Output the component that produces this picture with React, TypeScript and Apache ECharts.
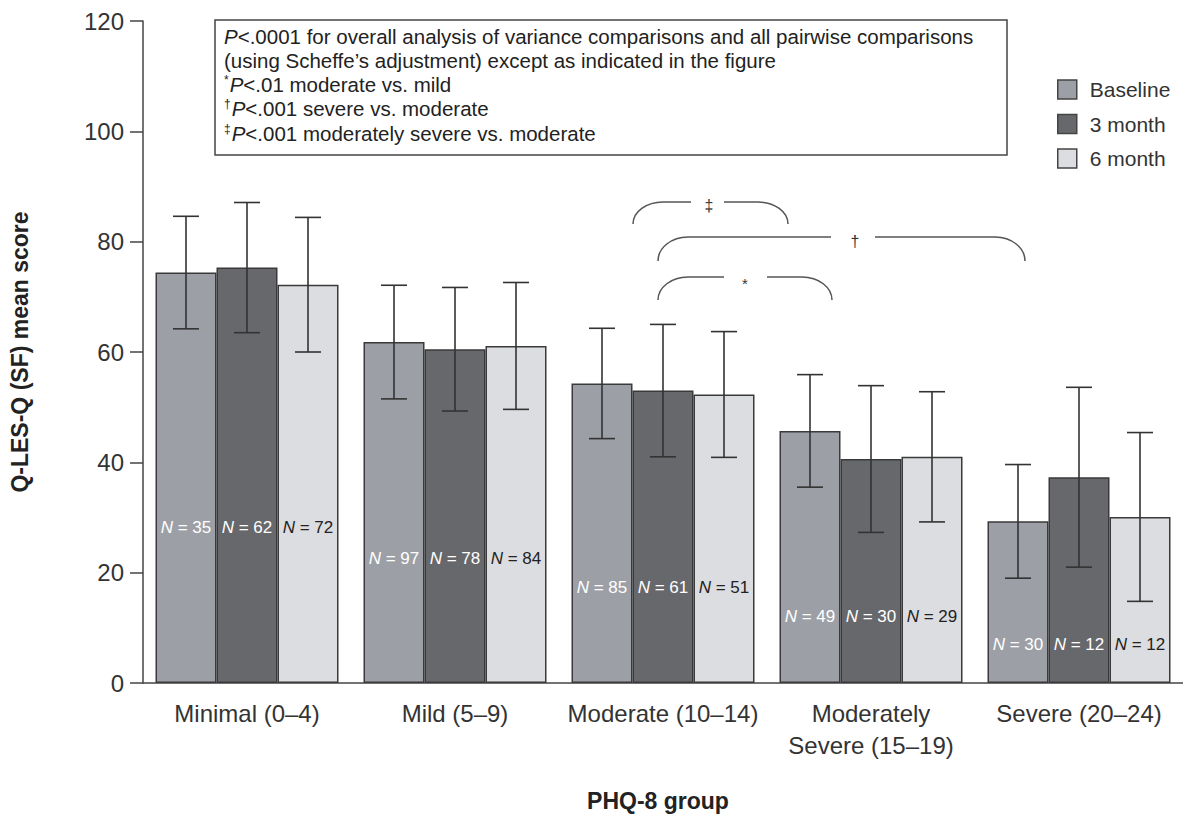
import React, { useEffect, useRef } from "react";
import * as echarts from "echarts";

// ---------- data ----------
const categories = [
  "Minimal (0–4)",
  "Mild (5–9)",
  "Moderate (10–14)",
  "Moderately\nSevere (15–19)",
  "Severe (20–24)",
];
const seriesNames = ["Baseline", "3 month", "6 month"];

const baselineMean = [74.4, 61.8, 54.3, 45.7, 29.3];
const baselineSD = [10.2, 10.3, 10.0, 10.2, 10.3];
const month3Mean = [75.3, 60.5, 53.0, 40.6, 37.3];
const month3SD = [11.8, 11.2, 12.0, 13.3, 16.3];
const month6Mean = [72.2, 61.1, 52.3, 41.0, 30.1];
const month6SD = [12.2, 11.5, 11.4, 11.8, 15.3];

const baselineN = [35, 97, 85, 49, 30];
const month3N = [62, 78, 61, 30, 12];
const month6N = [72, 84, 51, 29, 12];

const yTicks = [0, 20, 40, 60, 80, 100, 120];

const noteLines = [
  "{i|P}<.0001 for overall analysis of variance comparisons and all pairwise comparisons",
  "(using Scheffe’s adjustment) except as indicated in the figure",
  "{s|*}{i|P}<.01 moderate vs. mild",
  "{s|†}{i|P}<.001 severe vs. moderate",
  "{s|‡}{i|P}<.001 moderately severe vs. moderate",
];

// ---------- style constants ----------
const FONT = '"Liberation Sans", Arial, Helvetica, sans-serif';
const COLORS = ["#9d9fa6", "#67686c", "#dcdde1"];
const LABEL_FILL = ["#ffffff", "#ffffff", "#222222"];
const BORDER = "#3a3a3a";
const BAR_W = 61;
const CAP = 13;
const LABEL_LEVELS = [28.2, 22.6, 17.3, 12.1, 7.0];

const means = [baselineMean, month3Mean, month6Mean];
const sds = [baselineSD, month3SD, month6SD];
const ns = [baselineN, month3N, month6N];

// bracket annotation shape
const bracket = (x1: number, x2: number, yt: number, yb: number, g1: number, g2: number) => {
  const rx = 30;
  const h = yb - yt;
  const k = 0.552;
  return (
    `M${x1} ${yb} C${x1} ${yb - k * h} ${x1 + rx * (1 - k)} ${yt} ${x1 + rx} ${yt} L${g1} ${yt} ` +
    `M${g2} ${yt} L${x2 - rx} ${yt} C${x2 - rx * (1 - k)} ${yt} ${x2} ${yb - k * h} ${x2} ${yb}`
  );
};
const bracketPath =
  bracket(633, 788, 202, 224, 691, 724) +
  " " +
  bracket(658, 1025, 237, 261, 831, 875) +
  " " +
  bracket(658, 832, 277, 300, 724, 767);
echarts.graphic.registerShape("brackets", echarts.graphic.extendPath(bracketPath, {}));

export default function App() {
  const ref = useRef<HTMLDivElement>(null);

  useEffect(() => {
    if (!ref.current) return;
    const chart = echarts.init(ref.current, null, { renderer: "svg" });

    const errData: number[][] = [];
    const labelData: number[][] = [];
    for (let s = 0; s < 3; s++) {
      for (let c = 0; c < categories.length; c++) {
        errData.push([c, s, means[s][c] - sds[s][c], means[s][c] + sds[s][c]]);
        labelData.push([c, s, ns[s][c], LABEL_LEVELS[c]]);
      }
    }

    const barSeries = seriesNames.map((name, s) => ({
      name,
      type: "bar",
      data: means[s],
      barWidth: BAR_W,
      barGap: "0%",
      itemStyle: { color: COLORS[s], borderColor: BORDER, borderWidth: 1.5 },
      z: 2,
    }));

    const option: any = {
      animation: false,
      textStyle: { fontFamily: FONT },
      grid: { left: 142, top: 21, width: 1044, bottom: 130 },
      legend: {
        data: seriesNames,
        orient: "vertical",
        left: 1052,
        top: 74,
        icon: "rect",
        itemWidth: 19,
        itemHeight: 19,
        itemGap: 13.5,
        selectedMode: false,
        itemStyle: { borderColor: "#444", borderWidth: 1.5 },
        textStyle: { fontSize: 21, color: "#333", fontFamily: FONT, padding: [0, 0, 0, 8] },
      },
      xAxis: {
        type: "category",
        data: categories,
        name: "PHQ-8 group",
        nameLocation: "middle",
        nameGap: 106,
        nameTextStyle: { fontSize: 23, fontWeight: "bold", color: "#222", fontFamily: FONT, padding: [0, 10, 0, 0] },
        axisLine: { lineStyle: { color: "#444", width: 1.5 } },
        axisTick: { show: false },
        axisLabel: { fontSize: 24, color: "#333", lineHeight: 32, margin: 14, fontFamily: FONT, interval: 0 },
      },
      yAxis: {
        type: "value",
        min: yTicks[0],
        max: yTicks[yTicks.length - 1],
        interval: 20,
        name: "Q-LES-Q (SF) mean score",
        nameLocation: "middle",
        nameGap: 112,
        nameRotate: 90,
        nameTextStyle: { fontSize: 23, fontWeight: "bold", color: "#222", fontFamily: FONT },
        splitLine: { show: false },
        axisLine: { show: true, lineStyle: { color: "#444", width: 1.5 } },
        axisTick: { show: true, length: 13, inside: false, lineStyle: { color: "#444", width: 1.5 } },
        axisLabel: { fontSize: 24, color: "#333", margin: 19, fontFamily: FONT },
      },
      series: [
        ...barSeries,
        {
          type: "custom",
          name: "err",
          data: errData,
          encode: { x: 0, y: [2, 3] },
          z: 4,
          silent: true,
          renderItem: (params: any, api: any) => {
            const c = api.value(0);
            const s = api.value(1);
            const lo = api.coord([c, api.value(2)]);
            const hi = api.coord([c, api.value(3)]);
            const x = hi[0] + (s - 1) * BAR_W;
            const st = { stroke: "#333", lineWidth: 1.6 };
            return {
              type: "group",
              children: [
                { type: "line", shape: { x1: x, y1: hi[1], x2: x, y2: lo[1] }, style: st },
                { type: "line", shape: { x1: x - CAP, y1: hi[1], x2: x + CAP, y2: hi[1] }, style: st },
                { type: "line", shape: { x1: x - CAP, y1: lo[1], x2: x + CAP, y2: lo[1] }, style: st },
              ],
            };
          },
        },
        {
          type: "custom",
          name: "nlabels",
          data: labelData,
          encode: { x: 0, y: 3 },
          z: 5,
          silent: true,
          renderItem: (params: any, api: any) => {
            const c = api.value(0);
            const s = api.value(1);
            const p = api.coord([c, api.value(3)]);
            const fill = LABEL_FILL[s];
            return {
              type: "text",
              x: p[0] + (s - 1) * BAR_W,
              y: p[1],
              style: {
                text: `{i|N} = ${api.value(2)}`,
                fill,
                fontSize: 17,
                fontFamily: FONT,
                align: "center",
                verticalAlign: "middle",
                rich: {
                  i: { fontStyle: "italic", fill, fontSize: 17, fontFamily: FONT },
                },
              },
            };
          },
        },
      ],
      graphic: [
        {
          type: "rect",
          shape: { x: 215, y: 20, width: 792, height: 135 },
          style: { fill: "#fff", stroke: "#444", lineWidth: 1.5 },
          z: 10,
        },
        ...noteLines.map((t, i) => ({
          type: "text",
          x: 224,
          y: 36 + i * 24.3,
          z: 11,
          style: {
            text: t,
            fill: "#222",
            fontSize: 20.5,
            fontFamily: FONT,
            verticalAlign: "middle",
            rich: {
              i: { fontStyle: "italic", fontSize: 20.5, fill: "#222", fontFamily: FONT },
              s: { fontSize: 12, fill: "#222", fontFamily: FONT, verticalAlign: "top", padding: [0, 1, 8, 0] },
            },
          },
        })),
        {
          type: "brackets",
          x: 0,
          y: 0,
          z: 11,
          style: { fill: "none", stroke: "#555", lineWidth: 1.5 },
        },
        { type: "text", x: 709, y: 205, z: 11, style: { text: "‡", fontSize: 16, fill: "#333", align: "center", verticalAlign: "middle", fontFamily: FONT } },
        { type: "text", x: 855, y: 241, z: 11, style: { text: "†", fontSize: 16, fill: "#333", align: "center", verticalAlign: "middle", fontFamily: FONT } },
        { type: "text", x: 745, y: 283, z: 11, style: { text: "*", fontSize: 15, fill: "#333", align: "center", verticalAlign: "middle", fontFamily: FONT } },
      ],
    };

    chart.setOption(option);
    return () => chart.dispose();
  }, []);

  return (
    <div
      ref={ref}
      style={{ position: "absolute", left: 0, top: 0, width: 1183, height: 817, background: "#fff" }}
    />
  );
}
